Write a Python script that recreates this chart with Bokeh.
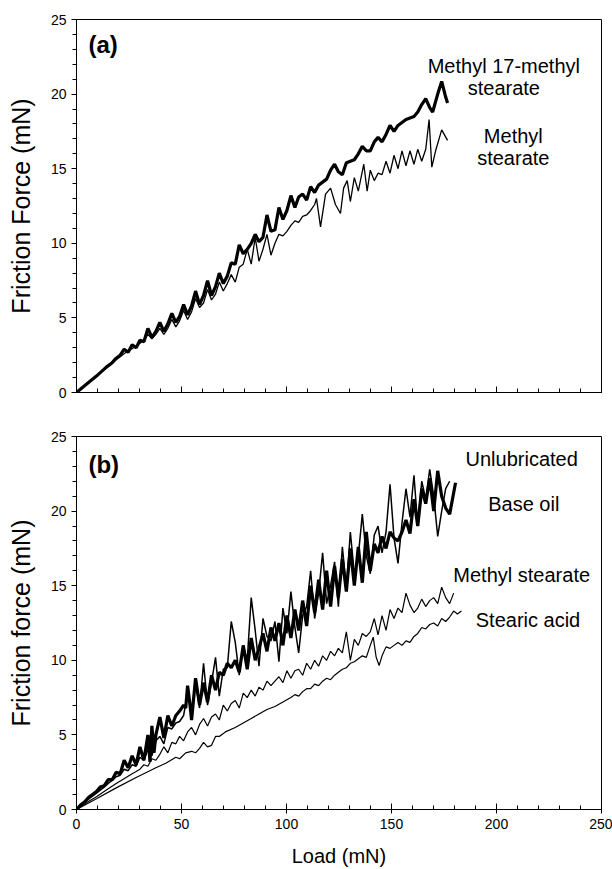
from bokeh.plotting import figure
from bokeh.layouts import column
from bokeh.models import Range1d, FixedTicker, Label
from bokeh.embed import file_html
from bokeh.resources import INLINE

FONT = "Liberation Sans"

# ---------------- Panel (a) data ----------------
a_m17_load = [0, 4.7, 9.5, 14.2, 17.0, 18.9, 20.8, 22.7, 24.6, 26.5, 28.4, 30.2, 32.1, 34.0, 35.9, 37.8, 39.7, 41.6, 43.5, 45.4,
              47.3, 49.1, 51.0, 52.9, 54.8, 56.7, 58.6, 60.5, 62.4, 64.3, 66.2, 68.0, 69.9, 71.8, 73.7, 75.6, 77.5, 79.4, 81.3, 83.2,
              85.1, 86.9, 88.8, 90.7, 92.6, 94.5, 96.4, 98.3, 100.2, 102.1, 104.0, 105.8, 107.7, 109.6, 111.5, 113.4, 115.3, 117.2, 119.1, 121.0,
              122.9, 124.7, 126.6, 128.5, 130.4, 132.3, 134.2, 136.1, 138.0, 139.9, 141.8, 143.6, 145.5, 147.4, 149.3, 151.2, 153.1, 155.0, 156.9, 158.8,
              160.7, 162.5, 164.4, 166.3, 168.2, 169.6, 172.0, 173.9, 175.8, 176.7]
a_m17_force = [0, 0.55, 1.1, 1.7, 2.0, 2.3, 2.5, 2.9, 2.7, 3.2, 3.0, 3.5, 3.4, 4.3, 3.7, 4.1, 4.7, 4.1, 4.6, 5.3,
               4.7, 5.1, 5.9, 5.2, 5.8, 6.8, 5.9, 6.5, 7.5, 6.5, 7.1, 8.0, 7.3, 7.8, 8.7, 8.6, 9.9, 9.3, 9.6, 10.0,
               10.6, 10.1, 10.4, 11.9, 10.8, 10.9, 12.4, 11.6, 12.2, 13.2, 12.4, 13.1, 13.3, 12.9, 13.8, 13.4, 13.9, 14.1, 14.3, 14.9,
               15.3, 14.8, 14.6, 15.4, 15.5, 15.6, 16.0, 16.5, 16.2, 16.2, 16.8, 17.1, 16.8, 17.3, 17.9, 17.5, 17.9, 18.1, 18.3, 18.4,
               18.5, 18.8, 19.3, 19.7, 19.1, 18.8, 20.0, 20.85, 19.8, 19.4]

a_ms_load = [0, 4.7, 9.5, 14.2, 18.9, 23.6, 28.4, 32.1, 34.0, 35.9, 37.8, 39.7, 41.6, 43.5, 45.4, 47.3, 49.1, 51.0, 52.9, 54.8,
             56.7, 58.6, 60.5, 62.4, 64.3, 66.2, 68.0, 69.9, 71.8, 73.7, 75.6, 77.5, 79.4, 81.3, 83.2, 85.1, 86.9, 88.8, 90.7, 92.6,
             94.5, 96.4, 98.3, 100.2, 102.1, 104.0, 105.8, 107.7, 109.6, 111.5, 113.4, 114.3, 116.2, 118.6, 121.0, 123.3, 125.7, 127.2, 128.9, 130.4,
             132.3, 134.2, 136.8, 138.4, 139.9, 141.8, 143.6, 145.5, 147.4, 149.3, 151.2, 153.1, 155.0, 156.9, 158.8, 160.7, 162.5, 164.4, 166.3, 167.9,
             169.2, 171.0, 173.9, 176.7]
a_ms_force = [0, 0.55, 1.1, 1.65, 2.2, 2.7, 3.1, 3.5, 3.9, 3.6, 3.9, 4.3, 3.9, 4.3, 4.9, 4.4, 4.8, 5.5, 4.9, 5.4,
              6.3, 5.7, 6.0, 6.9, 6.2, 6.6, 7.4, 6.8, 7.3, 7.9, 7.4, 8.4, 8.6, 9.6, 8.6, 10.4, 8.8, 9.6, 10.6, 9.2,
              10.0, 10.6, 10.5, 10.8, 11.2, 11.5, 11.4, 11.8, 11.9, 12.2, 12.6, 13.0, 11.1, 13.3, 13.7, 12.6, 12.0, 13.7, 14.2, 12.8,
              14.4, 13.5, 15.3, 13.5, 14.9, 14.2, 14.7, 14.6, 15.5, 14.7, 15.9, 15.0, 16.2, 15.2, 16.2, 15.3, 16.3, 15.5, 16.3, 18.3,
              15.1, 16.2, 17.6, 16.9]

# ---------------- Panel (b) data ----------------
b_unl_load = [0, 1.9, 3.8, 5.7, 7.6, 9.5, 11.3, 13.2, 15.1, 17.0, 18.9, 20.8, 22.7, 24.6, 26.5, 28.4, 30.2, 32.1, 34.0, 35.0,
              35.9, 36.9, 37.8, 39.7, 41.6, 43.5, 45.4, 47.3, 49.1, 51.0, 52.0, 52.9, 53.9, 54.8, 56.7, 58.6, 60.5, 62.4, 64.3, 66.2,
              68.0, 69.9, 71.8, 73.7, 75.6, 77.5, 79.4, 81.3, 83.2, 85.1, 86.9, 88.8, 90.7, 92.6, 94.5, 96.4, 98.3, 100.2, 102.1, 104.0,
              105.8, 107.7, 109.6, 111.5, 113.4, 115.3, 117.2, 119.1, 121.0, 122.9, 124.7, 126.6, 128.5, 130.4, 132.3, 134.2, 136.1, 138.0, 139.9, 141.8,
              143.6, 145.5, 147.4, 149.3, 151.2, 153.1, 155.0, 156.9, 158.8, 160.7, 162.5, 164.4, 166.3, 168.2, 170.1, 172.0, 173.9, 175.8, 177.7, 180.5]
b_unl_force = [0, 0.3, 0.5, 0.8, 1.0, 1.2, 1.5, 1.6, 2.0, 2.0, 2.5, 2.4, 3.3, 2.8, 3.6, 3.0, 4.2, 3.3, 5.0, 3.2,
               5.6, 3.8, 5.0, 6.2, 4.8, 6.3, 5.6, 6.3, 6.6, 7.0, 6.8, 8.3, 7.2, 6.0, 8.8, 7.0, 8.5, 7.2, 9.0, 8.0,
               9.2, 9.0, 9.8, 9.5, 10.0, 9.2, 11.0, 9.4, 11.5, 10.0, 10.8, 11.8, 10.6, 12.2, 11.3, 12.5, 11.0, 13.0, 11.5, 13.4,
               12.0, 14.0, 12.3, 15.0, 13.2, 15.4, 13.4, 16.0, 13.6, 16.3, 14.2, 16.8, 14.6, 17.5, 15.0, 17.6, 15.2, 18.6, 16.0, 17.8,
               17.2, 18.3, 17.5, 18.6, 18.2, 18.0, 18.6, 19.4, 18.5, 20.8, 19.0, 21.5, 20.5, 22.2, 20.0, 22.7, 21.0, 20.2, 19.8, 21.9]

b_base_load = [0, 1.9, 3.8, 5.7, 7.6, 9.5, 11.3, 13.2, 15.1, 17.0, 18.9, 20.8, 22.7, 24.6, 26.5, 28.4, 30.2, 32.1, 34.0, 35.9,
               37.8, 39.7, 41.6, 43.5, 45.4, 47.3, 49.1, 51.0, 52.9, 54.8, 56.7, 58.6, 60.5, 62.4, 64.3, 66.2, 68.0, 69.9, 71.8, 73.7,
               75.6, 77.5, 79.4, 81.3, 83.2, 85.1, 86.9, 88.8, 90.7, 92.6, 94.5, 96.4, 98.3, 100.2, 102.1, 104.0, 105.8, 107.7, 109.6, 111.5,
               113.4, 115.3, 117.2, 119.1, 121.0, 122.9, 124.7, 126.6, 128.5, 130.4, 132.3, 134.2, 136.1, 138.0, 139.9, 141.8, 143.6, 145.5, 147.4, 149.3,
               151.2, 153.1, 155.0, 156.9, 158.8, 160.7, 162.5, 164.4, 166.3, 168.2, 170.1, 172.0, 173.9, 175.8, 177.7]
b_base_force = [0, 0.25, 0.45, 0.7, 0.9, 1.1, 1.3, 1.5, 1.75, 1.95, 2.2, 2.3, 2.7, 2.6, 3.0, 2.9, 3.5, 3.3, 4.0, 3.6,
                4.6, 4.9, 4.4, 5.5, 5.4, 5.8, 5.9, 6.3, 7.8, 6.4, 8.5, 6.8, 9.8, 7.0, 8.5, 10.2, 7.6, 9.4, 9.5, 12.6,
                11.2, 9.0, 11.0, 10.0, 14.2, 12.0, 9.6, 12.8, 11.6, 11.3, 12.6, 9.9, 13.5, 11.8, 14.6, 12.2, 10.5, 13.0, 13.6, 16.0,
                12.8, 14.5, 17.2, 13.8, 15.0, 16.6, 13.6, 17.6, 14.8, 18.6, 15.8, 17.0, 19.8, 17.0, 15.8, 18.4, 19.0, 17.2, 18.6, 21.8,
                18.2, 16.5, 19.2, 21.5, 19.6, 22.4, 19.0, 22.0, 20.8, 22.8, 21.0, 18.3, 20.0, 21.5, 22.0]

b_ms_load = [0, 4.7, 9.5, 14.2, 18.9, 23.6, 26.5, 28.4, 30.2, 32.1, 34.0, 35.9, 37.8, 39.7, 41.6, 43.5, 45.4, 47.3, 49.1, 51.0,
             52.9, 54.8, 56.7, 58.6, 60.5, 62.4, 64.3, 66.2, 68.0, 69.9, 71.8, 73.7, 75.6, 77.5, 79.4, 81.3, 83.2, 85.1, 86.9, 88.8,
             90.7, 92.6, 94.5, 96.4, 98.3, 100.2, 102.1, 104.0, 105.8, 107.7, 109.6, 111.5, 113.4, 115.3, 117.2, 119.1, 121.0, 122.9, 124.7, 126.6,
             128.5, 130.4, 132.3, 134.2, 136.1, 138.0, 139.9, 141.8, 143.6, 145.5, 147.4, 149.3, 151.2, 153.1, 155.0, 156.9, 158.8, 160.7, 162.5, 164.4,
             166.3, 168.2, 170.1, 172.0, 173.9, 175.8, 177.7, 179.6]
b_ms_force = [0, 0.45, 0.85, 1.3, 1.75, 2.15, 2.4, 2.55, 2.7, 3.0, 2.9, 3.4, 3.3, 3.7, 4.2, 3.8, 4.5, 4.4, 4.9, 4.6,
              5.2, 5.5, 5.0, 5.7, 6.1, 5.6, 6.2, 6.4, 6.0, 7.0, 6.6, 7.1, 7.3, 6.8, 7.8, 7.5, 8.0, 7.6, 8.2, 8.0,
              8.6, 8.3, 8.6, 8.9, 8.5, 9.3, 8.8, 9.3, 9.4, 9.0, 9.8, 9.4, 10.0, 9.6, 10.3, 10.0, 10.6, 10.3, 10.8, 10.5,
              11.9, 10.0, 11.4, 11.0, 11.8, 11.6, 11.9, 12.8, 11.7, 13.0, 12.0, 13.4, 12.8, 13.5, 13.2, 14.5, 13.7, 13.2, 13.5, 14.1,
              13.6, 14.0, 14.2, 13.8, 14.9, 14.2, 13.8, 14.5]

b_sa_load = [0, 9.5, 18.9, 28.4, 37.8, 42.5, 47.3, 49.1, 52.0, 54.8, 56.7, 58.6, 60.5, 62.4, 64.3, 66.2, 68.0, 70.9, 75.6, 79.4,
             83.2, 86.9, 90.7, 94.5, 98.3, 102.1, 104.0, 105.8, 107.7, 109.6, 111.5, 113.4, 115.3, 117.2, 119.1, 121.0, 122.9, 124.7, 126.6, 128.5,
             130.4, 132.3, 134.2, 136.1, 138.0, 139.9, 141.3, 142.7, 144.1, 145.5, 147.4, 149.3, 151.2, 153.1, 155.0, 156.9, 158.8, 160.7, 162.5, 164.4,
             166.3, 168.2, 170.1, 172.0, 173.9, 175.8, 177.7, 179.6, 181.4, 183.3]
b_sa_force = [0, 0.72, 1.45, 2.15, 2.8, 3.1, 3.5, 3.4, 3.8, 3.9, 3.8, 4.1, 4.5, 4.2, 4.3, 4.9, 4.9, 5.2, 5.5, 5.8,
              6.1, 6.4, 6.7, 6.9, 7.2, 7.5, 7.7, 7.6, 7.9, 8.1, 8.1, 8.4, 8.3, 8.6, 8.8, 8.7, 9.0, 9.2, 9.4, 9.5,
              9.8, 9.9, 10.1, 10.3, 10.2, 11.0, 11.55, 10.2, 9.65, 10.3, 10.9, 10.8, 11.0, 11.2, 11.0, 11.3, 11.2, 11.6, 11.8, 12.2,
              12.1, 12.4, 12.5, 12.3, 12.8, 12.6, 12.9, 13.3, 13.1, 13.3]

x_major = [0, 50, 100, 150, 200, 250]
x_minor = list(range(0, 251, 10))
y_major = [0, 5, 10, 15, 20, 25]
y_minor = list(range(0, 26))

# annotation texts (label, load position, force position)
a_texts = [("Methyl 17-methyl", 203.5, 21.9), ("stearate", 203.5, 20.4),
           ("Methyl", 208.0, 17.2), ("stearate", 208.0, 15.7)]
b_texts = [("Unlubricated", 212.0, 23.5), ("Base oil", 213.0, 20.45),
           ("Methyl stearate", 212.0, 15.75), ("Stearic acid", 215.0, 12.67)]


def make_panel(ylabel, show_x_labels, min_top, min_bottom):
    p = figure(frame_width=525, frame_height=373,
               x_range=Range1d(0, 250), y_range=Range1d(0, 25),
               output_backend="svg", toolbar_location=None,
               min_border_left=76, min_border_right=11,
               min_border_top=min_top, min_border_bottom=min_bottom)
    p.grid.visible = False
    p.outline_line_color = "black"
    p.outline_line_width = 1
    p.background_fill_color = "white"
    p.border_fill_color = "white"

    xa = p.xaxis[0]
    xa.ticker = FixedTicker(ticks=x_major, minor_ticks=x_minor)
    xa.axis_line_color = "black"
    xa.major_tick_line_color = "black"
    xa.minor_tick_line_color = "black"
    xa.major_tick_in = 6
    xa.minor_tick_in = 4
    xa.minor_tick_out = 0
    xa.major_label_text_font = FONT
    xa.major_label_text_color = "black"
    if show_x_labels:
        xa.major_tick_out = 4
        xa.major_label_text_font_size = "14px"
        xa.major_label_standoff = 5
        xa.axis_label = "Load (mN)"
        xa.axis_label_text_font = FONT
        xa.axis_label_text_font_size = "20px"
        xa.axis_label_text_font_style = "normal"
        xa.axis_label_text_color = "black"
        xa.axis_label_standoff = 13
    else:
        xa.major_tick_out = 0
        xa.major_label_text_font_size = "0px"
        xa.major_label_standoff = 0

    ya = p.yaxis[0]
    ya.ticker = FixedTicker(ticks=y_major, minor_ticks=y_minor)
    ya.axis_line_color = "black"
    ya.major_tick_line_color = "black"
    ya.minor_tick_line_color = "black"
    ya.major_tick_in = 0
    ya.major_tick_out = 5
    ya.minor_tick_in = 0
    ya.minor_tick_out = 4
    ya.major_label_text_font = FONT
    ya.major_label_text_font_size = "14px"
    ya.major_label_text_color = "black"
    ya.major_label_standoff = 5
    ya.axis_label = ylabel
    ya.axis_label_text_font = FONT
    ya.axis_label_text_font_size = "25px"
    ya.axis_label_text_font_style = "normal"
    ya.axis_label_text_color = "black"
    ya.axis_label_standoff = 13
    return p


def add_label(p, x, y, txt, size="20px", style="normal", align="center"):
    p.add_layout(Label(x=x, y=y, text=txt, text_font=FONT, text_font_size=size,
                       text_font_style=style, text_align=align, text_baseline="middle",
                       text_color="black"))


# ---------------- Panel (a) ----------------
pa = make_panel("Friction Force (mN)", False, 19, 22)
pa.line(a_ms_load, a_ms_force, line_color="black", line_width=1.3)
pa.line(a_m17_load, a_m17_force, line_color="black", line_width=3.2)
add_label(pa, 5.7, 23.3, "(a)", size="24px", style="bold", align="left")
for t, x, y in a_texts:
    add_label(pa, x, y, t)

# ---------------- Panel (b) ----------------
pb = make_panel("Friction force (mN)", True, 22, 55)
pb.line(b_sa_load, b_sa_force, line_color="black", line_width=1.2)
pb.line(b_ms_load, b_ms_force, line_color="black", line_width=1.2)
pb.line(b_base_load, b_base_force, line_color="black", line_width=1.5)
pb.line(b_unl_load, b_unl_force, line_color="black", line_width=3.2)
add_label(pb, 5.7, 23.15, "(b)", size="24px", style="bold", align="left")
for t, x, y in b_texts:
    add_label(pb, x, y, t)

layout = column(pa, pb, spacing=0)
open("out.html", "w").write(file_html(layout, INLINE))
